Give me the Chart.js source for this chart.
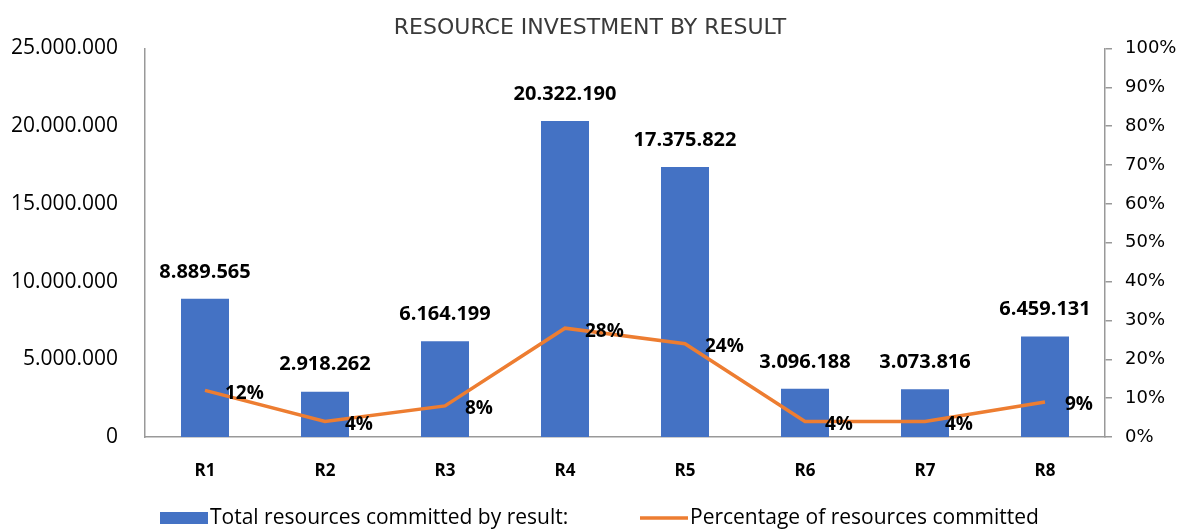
<!DOCTYPE html>
<html>
<head>
<meta charset="utf-8">
<script src="https://cdn.jsdelivr.net/npm/chart.js@4/dist/chart.umd.min.js"></script>
<style>
  html, body { margin: 0; padding: 0; background: #fff; }
  #wrap { width: 1180px; height: 531px; position: relative; }
</style>
</head>
<body>
<div id="wrap"><canvas id="chart"></canvas></div>
<script>
// values
var categories = ['R1', 'R2', 'R3', 'R4', 'R5', 'R6', 'R7', 'R8'];
var resources = [8889565, 2918262, 6164199, 20322190, 17375822, 3096188, 3073816, 6459131];
var percentages = [12, 4, 8, 28, 24, 4, 4, 9];
var leftTicks = [0, 5000000, 10000000, 15000000, 20000000, 25000000];
var rightTicks = [0, 10, 20, 30, 40, 50, 60, 70, 80, 90, 100];

var blue = '#4472C4';
var orange = '#ED7D31';
var font = '"Open Sans", "Noto Sans", sans-serif';

function dots(n) {
    return String(n).replace(/\B(?=(\d{3})+(?!\d))/g, '.');
}

// simple value labels, no datalabels plugin available
var valueLabels = {
    id: 'valueLabels',
    afterDatasetsDraw: function(chart) {
        var ctx = chart.ctx;
        ctx.save();
        ctx.fillStyle = '#000';

        var bars = chart.getDatasetMeta(0).data;
        ctx.font = 'bold 20px ' + font;
        ctx.textAlign = 'center';
        ctx.textBaseline = 'middle';
        bars.forEach(function(bar, i) {
            ctx.fillText(dots(resources[i]), bar.x, bar.y - 27);
        });

        var points = chart.getDatasetMeta(1).data;
        ctx.font = 'bold 19px ' + font;
        ctx.textAlign = 'left';
        points.forEach(function(pt, i) {
            ctx.fillText(percentages[i] + '%', pt.x + 20, pt.y + 3);
        });
        ctx.restore();
    }
};

// legend drawn by hand so the spacing matches the original
var bottomLegend = {
    id: 'bottomLegend',
    afterDraw: function(chart) {
        var ctx = chart.ctx;
        var y = chart.height - 13;
        var sets = chart.data.datasets;
        ctx.save();
        ctx.font = '21px ' + font;
        ctx.textAlign = 'left';
        ctx.textBaseline = 'middle';

        ctx.fillStyle = sets[0].backgroundColor;
        ctx.fillRect(160, y - 6, 48, 12);
        ctx.fillStyle = '#000';
        ctx.fillText(sets[0].label, 210, y);

        ctx.strokeStyle = sets[1].borderColor;
        ctx.lineWidth = 3.5;
        ctx.beginPath();
        ctx.moveTo(640, y);
        ctx.lineTo(688, y);
        ctx.stroke();
        ctx.fillText(sets[1].label, 690, y);
        ctx.restore();
    }
};

var ctx = document.getElementById('chart').getContext('2d');
var chart = new Chart(ctx, {
    data: {
        labels: categories,
        datasets: [
            {
                type: 'bar',
                label: 'Total resources committed by result:',
                data: resources,
                backgroundColor: blue,
                borderWidth: 0,
                yAxisID: 'y',
                categoryPercentage: 0.8,
                barPercentage: 0.5,
                order: 2
            },
            {
                type: 'line',
                label: 'Percentage of resources committed',
                data: percentages,
                borderColor: orange,
                backgroundColor: orange,
                borderWidth: 3.5,
                pointRadius: 0,
                tension: 0,
                yAxisID: 'y1',
                order: 1
            }
        ]
    },
    options: {
        responsive: true,
        maintainAspectRatio: false,
        animation: false,
        layout: { padding: 0 },
        plugins: {
            title: {
                display: true,
                text: 'RESOURCE INVESTMENT BY RESULT',
                color: '#3a3a3a',
                font: { family: '"DejaVu Sans", sans-serif', size: 22, weight: 'normal' },
                padding: { top: 15, bottom: 7 }
            },
            legend: { display: false },
            tooltip: { enabled: false }
        },
        scales: {
            x: {
                grid: { display: false, drawTicks: false },
                border: { display: true, color: '#999', width: 1.5 },
                ticks: {
                    color: '#000',
                    padding: 24,
                    font: { family: font, size: 17, weight: 'bold' }
                },
                afterFit: function(scale) { scale.height = 94; }
            },
            y: {
                position: 'left',
                min: 0,
                max: 25000000,
                afterBuildTicks: function(scale) {
                    scale.ticks = leftTicks.map(function(v) { return { value: v }; });
                },
                grid: { display: false, drawTicks: false },
                border: { display: true, color: '#999', width: 1.5 },
                ticks: {
                    color: '#000',
                    padding: 27,
                    font: { family: font, size: 21 },
                    callback: function(v) { return dots(v); }
                },
                afterFit: function(scale) { scale.width = 145; }
            },
            y1: {
                position: 'right',
                min: 0,
                max: 100,
                afterBuildTicks: function(scale) {
                    scale.ticks = rightTicks.map(function(v) { return { value: v }; });
                },
                grid: { drawOnChartArea: false, drawTicks: true, tickLength: 7, color: '#999', lineWidth: 1.5 },
                border: { display: true, color: '#999', width: 1.5 },
                ticks: {
                    color: '#000',
                    padding: 13,
                    font: { family: '"DejaVu Sans", sans-serif', size: 18 },
                    callback: function(v) { return v + '%'; }
                },
                afterFit: function(scale) { scale.width = 75; }
            }
        }
    },
    plugins: [valueLabels, bottomLegend]
});
</script>
</body>
</html>
